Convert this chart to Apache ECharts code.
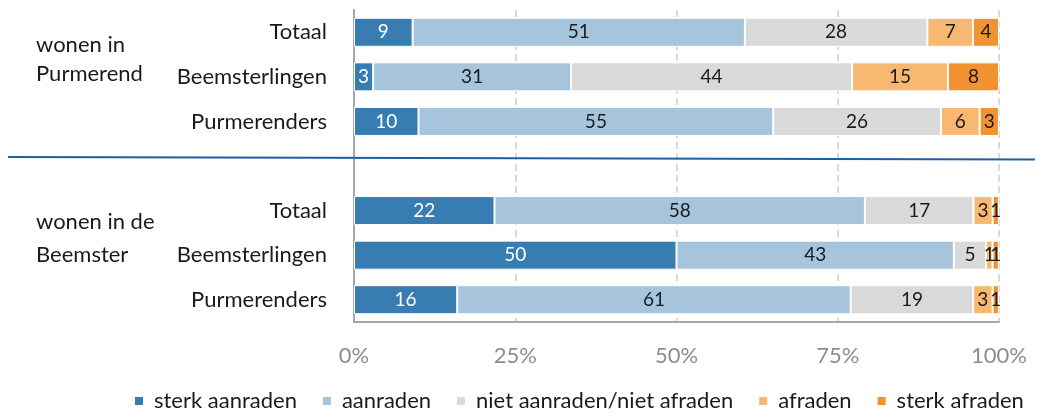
<!DOCTYPE html>
<html>
<head>
<meta charset="utf-8">
<script src="https://cdn.jsdelivr.net/npm/echarts@6/dist/echarts.min.js"></script>
<style>
    html, body { margin: 0; padding: 0; background: #fff; }
    #chart { width: 1038px; height: 414px; }
</style>
</head>
<body>
<div id="chart"></div>
<script>
    // rijen van boven naar beneden, lege rij scheidt de twee groepen
    var categories = ['Totaal', 'Beemsterlingen', 'Purmerenders', '', 'Totaal', 'Beemsterlingen', 'Purmerenders'];
    var groupLabels = ['wonen in\nPurmerend', 'wonen in de\nBeemster'];
    var seriesNames = ['sterk aanraden', 'aanraden', 'niet aanraden/niet afraden', 'afraden', 'sterk afraden'];
    var sterkAanraden = [9, 3, 10, null, 22, 50, 16];
    var aanraden = [51, 31, 55, null, 58, 43, 61];
    var neutraal = [28, 44, 26, null, 17, 5, 19];
    var afraden = [7, 15, 6, null, 3, 1, 3];
    var sterkAfraden = [4, 8, 3, null, 1, 1, 1];
    var xTicks = [0, 25, 50, 75, 100];

    var colors = ['#377db1', '#a6c5dd', '#d9d9d9', '#f8b872', '#f29231'];
    var labelColors = ['#ffffff', '#1a1a1a', '#1a1a1a', '#1a1a1a', '#1a1a1a'];
    var raw = [sterkAanraden, aanraden, neutraal, afraden, sterkAfraden];
    var font = 'Lato';

    // 100% gestapeld, zoals in Excel
    function rowTotal(i) {
        var t = 0;
        raw.forEach(function(s) { t += s[i] || 0; });
        return t;
    }

    var chart = echarts.init(document.getElementById('chart'));
    var series = raw.map(function(vals, k) {
        return {
            name: seriesNames[k],
            type: 'bar',
            stack: 'total',
            barWidth: 29,
            itemStyle: { color: colors[k], borderColor: '#fff', borderWidth: 1 },
            label: {
                show: true,
                position: 'inside',
                color: labelColors[k],
                fontFamily: font,
                fontSize: 19,
                formatter: function(p) { return vals[p.dataIndex]; }
            },
            emphasis: { disabled: true },
            data: vals.map(function(v, i) {
                return v == null ? '-' : v / rowTotal(i) * 100;
            })
        };
    });

    var option = {
        animation: false,
        grid: { left: 354, right: 39, top: 10, bottom: 92 },
        legend: {
            top: 390,
            left: 133,
            width: 905,
            padding: 0,
            itemWidth: 10,
            itemHeight: 10,
            itemGap: 24,
            icon: 'rect',
            textStyle: { fontFamily: font, fontSize: 22, color: '#1a1a1a', padding: [0, 0, 0, 5] },
            data: seriesNames
        },
        xAxis: {
            type: 'value',
            min: 0,
            max: 100,
            interval: 25,
            axisLine: { show: true, lineStyle: { color: '#a6a6a6', width: 2 } },
            axisTick: { show: false },
            splitLine: { show: true, lineStyle: { color: '#d9d9d9', width: 2, type: [7, 4] } },
            axisLabel: {
                margin: 23,
                color: '#8c8c8c',
                fontFamily: font,
                fontSize: 22,
                formatter: function(v) { return xTicks.indexOf(v) >= 0 ? v + '%' : ''; }
            }
        },
        yAxis: {
            type: 'category',
            inverse: true,
            data: categories,
            axisLine: { show: true, lineStyle: { color: '#a6a6a6', width: 2 } },
            axisTick: { show: false },
            axisLabel: { margin: 27, color: '#1a1a1a', fontFamily: font, fontSize: 22 }
        },
        graphic: [
            {
                type: 'line',
                shape: { x1: 8, y1: 157, x2: 1035, y2: 159.5 },
                style: { stroke: '#1f5fa0', lineWidth: 2 },
                z: 10
            },
            {
                type: 'text', left: 36, top: 30,
                style: { text: groupLabels[0], font: '22px Lato', fill: '#1a1a1a', lineHeight: 29 }
            },
            {
                type: 'text', left: 36, top: 205,
                style: { text: groupLabels[1], font: '22px Lato', fill: '#1a1a1a', lineHeight: 33 }
            }
        ],
        series: series
    };
    chart.setOption(option);
</script>
</body>
</html>
